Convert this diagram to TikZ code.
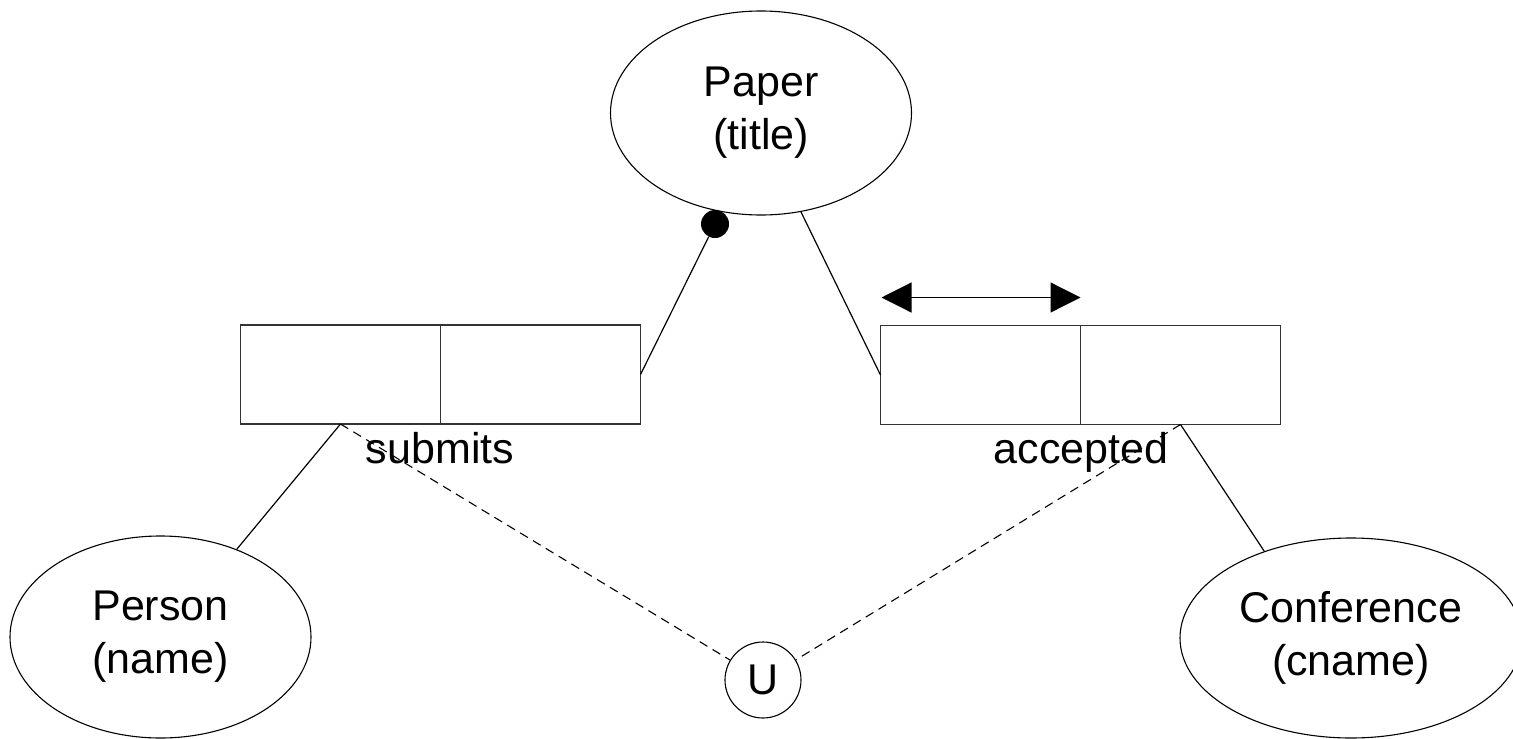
\documentclass[tikz,border=0pt]{standalone}
\usepackage{fontspec}
\setmainfont{Liberation Sans}
\usetikzlibrary{shapes.geometric,arrows.meta,calc}
\tikzset{
  entity/.style={draw, line width=1.1pt, ellipse, inner sep=0pt, align=center,
                 font=\fontsize{43}{53}\selectfont},
  half/.style={draw=black!80, line width=1.6pt, minimum width=200pt, minimum height=99pt,
               inner sep=0pt, outer sep=0pt},
  link/.style={line width=1.2pt},
  dashlink/.style={line width=1.1pt, dash pattern=on 9pt off 6pt},
  lbl/.style={font=\fontsize{43}{53}\selectfont, anchor=base, inner sep=0pt},
  tri/.style={line width=1.2pt, {Triangle[length=30pt,width=30pt]}-{Triangle[length=30pt,width=30pt]}}
}
\begin{document}
\begin{tikzpicture}[x=1pt,y=-1pt]
  \useasboundingbox (0,0) rectangle (1513,739);

  % entities
  \node[entity, minimum width=301pt, minimum height=204pt] (paper) at (761,113) {Paper\\(title)};
  \node[entity, minimum width=301pt, minimum height=202pt] (person) at (160.5,637) {Person\\(name)};
  \node[entity, minimum width=342pt, minimum height=200pt] (conf) at (1351,638) {Conference\\(cname)};

  % relationship tables
  \node[half] (sl) at (340.5,374.5) {};
  \node[half] (sr) at (540.5,374.5) {};
  \node[half] (al) at (980.5,375) {};
  \node[half] (ar) at (1180.5,375) {};
  \node[lbl] (subL) at (440,463) {submits};
  \node[lbl] (accL) at (1081,463) {accepted};

  % union node
  \node[draw, circle, line width=1.1pt, minimum size=76pt, inner sep=0pt,
        font=\fontsize{43}{53}\selectfont] (u) at (763,680) {U};

  % participation dot
  \node[circle, fill=black, minimum size=28pt, inner sep=0pt] (dot) at (715,224) {};

  % connectors
  \draw[link] (dot) -- (sr.east);
  \draw[link] (paper.-68) -- (al.west);
  \draw[link] (sl.south) -- (person.49);
  \draw[link] (ar.south) -- (conf.135);
  \draw[dashlink] (sl.south) -- (u);
  \draw[dashlink] (ar.south) -- (u);

  % ordering arrow above the accepted table
  \coordinate (a1) at ($(al.north west)+(1,-28)$);
  \coordinate (a2) at ($(al.north east)+(0,-28)$);
  \draw[tri] (a1) -- (a2);
\end{tikzpicture}
\end{document}
